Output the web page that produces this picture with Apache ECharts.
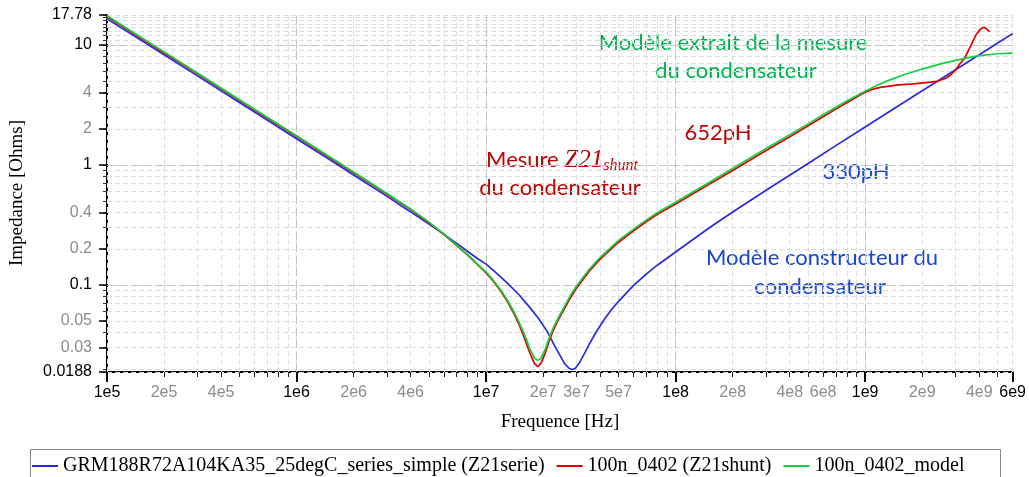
<!DOCTYPE html>
<html><head><meta charset="utf-8">
<script src="https://cdn.jsdelivr.net/npm/echarts@6/dist/echarts.min.js"></script>
<style>html,body{margin:0;padding:0;background:#fff}#c{width:1029px;height:477px}</style>
</head><body><div id="c"></div>
<script>
// ---------------- data ----------------
const seriesNames = [
  'GRM188R72A104KA35_25degC_series_simple (Z21serie)',
  '100n_0402 (Z21shunt)',
  '100n_0402_model'
];
const blueFreq = [1e5,1.5e5,2e5,3e5,5e5,7e5,1e6,1.5e6,2e6,3e6,4e6,5e6,6e6,7e6,8e6,9e6,1e7,1.15e7,1.3e7,1.5e7,1.7e7,1.9e7,2.1e7,2.3e7,2.45e7,2.6e7,2.75e7,2.85e7,2.95e7,3.1e7,3.3e7,3.5e7,3.8e7,4.2e7,4.6e7,5e7,6e7,7e7,8e7,1e8,1.5e8,2e8,3e8,5e8,7e8,1e9,1.5e9,2e9,3e9,4e9,5e9,6e9];
const blueZ    = [16.5,11.05,8.29,5.53,3.32,2.37,1.656,1.104,0.825,0.547,0.406,0.321,0.264,0.222,0.19,0.166,0.149,0.123,0.103,0.082,0.065,0.052,0.041,0.031,0.026,0.022,0.0201,0.0197,0.0201,0.0223,0.0268,0.032,0.0403,0.0515,0.0626,0.073,0.099,0.123,0.146,0.188,0.298,0.405,0.615,1.03,1.45,2.07,3.11,4.15,6.22,8.29,10.37,12.44];

const redFreq = [1e5,1.5e5,2e5,3e5,5e5,7e5,1e6,1.5e6,2e6,3e6,4e6,5e6,6e6,7e6,8e6,9e6,1e7,1.1e7,1.2e7,1.3e7,1.4e7,1.5e7,1.6e7,1.7e7,1.8e7,1.88e7,1.95e7,2.05e7,2.15e7,2.25e7,2.4e7,2.6e7,2.8e7,3e7,3.5e7,4e7,5e7,6e7,7e7,8e7,1e8,1.5e8,2e8,3e8,4e8,5e8,6e8,7e8,8e8,9e8,1e9,1.1e9,1.2e9,1.5e9,1.8e9,2.1e9,2.4e9,2.68e9,2.85e9,3e9,3.15e9,3.35e9,3.6e9,3.86e9,4.05e9,4.19e9,4.3e9,4.4e9,4.54e9];
const redZ    = [17.2,11.5,8.62,5.75,3.45,2.46,1.725,1.148,0.86,0.57,0.425,0.33,0.263,0.213,0.177,0.148,0.126,0.106,0.088,0.072,0.058,0.046,0.0355,0.0272,0.0221,0.0208,0.0223,0.027,0.034,0.041,0.051,0.064,0.079,0.094,0.13,0.164,0.227,0.283,0.336,0.388,0.472,0.69,0.9,1.32,1.72,2.12,2.52,2.92,3.3,3.68,4.03,4.28,4.43,4.65,4.74,4.85,4.98,5.3,5.7,6.2,6.9,7.8,9.8,12.3,13.5,14.0,13.9,13.4,12.9];

const greenFreq = [1e5,1.5e5,2e5,3e5,5e5,7e5,1e6,1.5e6,2e6,3e6,4e6,5e6,6e6,7e6,8e6,9e6,1e7,1.1e7,1.2e7,1.3e7,1.4e7,1.5e7,1.6e7,1.7e7,1.8e7,1.87e7,1.95e7,2.05e7,2.15e7,2.25e7,2.4e7,2.6e7,2.8e7,3e7,3.5e7,4e7,5e7,6e7,7e7,8e7,1e8,1.5e8,2e8,3e8,4e8,5e8,6e8,7e8,8e8,9e8,1e9,1.15e9,1.3e9,1.6e9,2e9,2.5e9,3e9,3.5e9,4e9,5e9,6e9];
const greenZ    = [17.5,11.67,8.76,5.84,3.5,2.5,1.75,1.165,0.872,0.578,0.43,0.334,0.265,0.215,0.179,0.15,0.128,0.108,0.09,0.074,0.06,0.048,0.038,0.0295,0.0245,0.0235,0.0245,0.029,0.036,0.043,0.053,0.067,0.083,0.098,0.135,0.17,0.235,0.292,0.347,0.4,0.488,0.714,0.935,1.37,1.79,2.2,2.62,3.03,3.42,3.78,4.12,4.6,5.0,5.65,6.3,6.95,7.45,7.85,8.15,8.45,8.55];

// tick labels
const xLabelValues = [1e5,2e5,4e5,1e6,2e6,4e6,1e7,2e7,3e7,5e7,1e8,2e8,4e8,6e8,1e9,2e9,4e9,6e9];
const xLabelTexts  = ['1e5','2e5','4e5','1e6','2e6','4e6','1e7','2e7','3e7','5e7','1e8','2e8','4e8','6e8','1e9','2e9','4e9','6e9'];
const xDarkLabels  = ['1e5','1e6','1e7','1e8','1e9','6e9'];
const yLabelValues = [17.78,10,4,2,1,0.4,0.2,0.1,0.05,0.03,0.0188];
const yLabelTexts  = ['17.78','10','4','2','1','0.4','0.2','0.1','0.05','0.03','0.0188'];
const yDarkLabels  = ['17.78','10','1','0.1','0.0188'];
const yExtraTicks  = [11,12,13,14,15,16,17];

// ---------------- helpers ----------------
const L = Math.log10;
const X_MIN = 1e5, X_MAX = 6e9, Y_MIN = 0.0188, Y_MAX = 17.78;
function multiples(lo, hi) {
  const out = [];
  for (let e = Math.floor(L(lo)) - 1; e <= Math.ceil(L(hi)); e++) {
    for (let m = 1; m < 10; m++) {
      const v = m * Math.pow(10, e);
      if (v >= lo * 0.9999 && v <= hi * 1.0001) out.push(v);
    }
  }
  return out;
}
const xAll = multiples(X_MIN, X_MAX).concat([X_MAX]);
const xMajor = [1e5,1e6,1e7,1e8,1e9,6e9];
const yAll = multiples(Y_MIN, Y_MAX).concat(yExtraTicks, [Y_MIN, Y_MAX]);
const yMajor = yLabelValues;
const yDecades = [10,1,0.1];
const xDecades = [1e6,1e7,1e8,1e9];

function pairs(fs, zs) { return fs.map((f, i) => [f, zs[i]]); }
function lookup(v, values, texts) {
  let best = 0, bd = 1e9;
  values.forEach((val, i) => { const d = Math.abs(L(val) - v); if (d < bd) { bd = d; best = i; } });
  return texts[best];
}
const PLOT_W = 1013 - 107, PLOT_H = 372 - 15;
const gridDash = [5, 3];

function decoAxis(kind, extra) {
  const base = kind === 'x'
    ? {type: 'value', min: L(X_MIN), max: L(X_MAX), position: 'bottom'}
    : {type: 'value', min: L(Y_MIN), max: L(Y_MAX), position: 'left'};
  const ax = Object.assign(base, {
    axisLine: {show: false}, axisTick: {show: false},
    axisLabel: {show: false}, splitLine: {show: false}
  }, extra);
  ax.axisLine = Object.assign({onZero: false}, ax.axisLine);
  return ax;
}

const labelFont = {fontFamily: 'Liberation Sans', fontSize: 16};
const rich = {
  k: Object.assign({color: '#000'}, labelFont),
  g: Object.assign({color: '#8c8c8c'}, labelFont)
};

const option = {
  animation: false,
  backgroundColor: '#fff',
  grid: {left: 107, right: 16, top: 15, bottom: 105},
  xAxis: [
    {type: 'log', min: X_MIN, max: X_MAX, show: false},
    // grid lines (minor, major)
    decoAxis('x', {axisTick: {show: true, inside: true, length: PLOT_H, customValues: xAll.map(L),
      lineStyle: {color: '#dddddd', width: 1, type: gridDash}}}),
    decoAxis('x', {axisTick: {show: true, inside: true, length: PLOT_H, customValues: xDecades.map(L),
      lineStyle: {color: '#c4c4c4', width: 1, type: [8, 4]}}}),
    // short ticks + labels + axis line
    decoAxis('x', {
      axisLine: {show: true, onZero: false, lineStyle: {color: '#000', width: 2}},
      axisTick: {show: true, length: 5, customValues: xAll.map(L), lineStyle: {color: '#222', width: 1}},
      axisLabel: {show: true, margin: 13, customValues: xLabelValues.map(L), rich: rich,
        formatter: v => { const t = lookup(v, xLabelValues, xLabelTexts); return (xDarkLabels.includes(t) ? '{k|' : '{g|') + t + '}'; }}
    }),
    decoAxis('x', {axisTick: {show: true, length: 10, customValues: xMajor.map(L), lineStyle: {color: '#000', width: 2}}})
  ],
  yAxis: [
    {type: 'log', min: Y_MIN, max: Y_MAX, show: false},
    decoAxis('y', {axisTick: {show: true, inside: true, length: PLOT_W, customValues: yAll.map(L),
      lineStyle: {color: '#dddddd', width: 1, type: gridDash}}}),
    decoAxis('y', {axisTick: {show: true, inside: true, length: PLOT_W, customValues: yDecades.map(L),
      lineStyle: {color: '#c4c4c4', width: 1, type: [8, 4]}}}),
    decoAxis('y', {
      axisLine: {show: true, onZero: false, lineStyle: {color: '#000', width: 2}},
      axisTick: {show: true, length: 4, customValues: yAll.map(L), lineStyle: {color: '#333', width: 1}},
      axisLabel: {show: true, margin: 15, customValues: yLabelValues.map(L), rich: rich,
        formatter: v => { const t = lookup(v, yLabelValues, yLabelTexts); return (yDarkLabels.includes(t) ? '{k|' : '{g|') + t + '}'; }}
    }),
    decoAxis('y', {axisTick: {show: true, length: 8, customValues: yMajor.map(L), lineStyle: {color: '#000', width: 1.5}}})
  ],
  legend: {
    left: 27, top: 451, itemWidth: 26, itemHeight: 2, itemGap: 12, icon: 'rect',
    textStyle: {fontFamily: 'Liberation Serif', fontSize: 20, color: '#000'},
    data: seriesNames
  },
  series: [
    {name: seriesNames[0], type: 'line', data: pairs(blueFreq, blueZ), color: '#2a2ae0'},
    {name: seriesNames[1], type: 'line', data: pairs(redFreq, redZ), color: '#e00000'},
    {name: seriesNames[2], type: 'line', data: pairs(greenFreq, greenZ), color: '#12d040'}
  ].map(s => Object.assign(s, {xAxisIndex: 0, yAxisIndex: 0, symbol: 'none', showSymbol: false,
      lineStyle: {width: 1.7}, emphasis: {disabled: true}})),
  graphic: [
    {type: 'rect', shape: {x: 30.5, y: 449.5, width: 970, height: 40}, style: {fill: 'none', stroke: '#8a8a8a', lineWidth: 1}},
    {type: 'text', x: 17, y: 193, rotation: Math.PI / 2,
      style: {text: 'Impedance [Ohms]', font: '19px "Liberation Serif"', fill: '#000', align: 'center', verticalAlign: 'middle'}},
    {type: 'text', x: 560, y: 422,
      style: {text: 'Frequence [Hz]', font: '19px "Liberation Serif"', fill: '#000', align: 'center', verticalAlign: 'middle'}},
    {type: 'text', x: 733, y: 43,
      style: {text: 'Modèle extrait de la mesure', font: '22px Lato', fill: '#00b050', align: 'center', verticalAlign: 'middle'}},
    {type: 'text', x: 736, y: 71,
      style: {text: 'du condensateur', font: '22px Lato', fill: '#00b050', align: 'center', verticalAlign: 'middle'}},
    {type: 'text', x: 562, y: 160,
      style: {text: '{a|Mesure }{b|Z21}{c|shunt}', align: 'center', verticalAlign: 'middle',
        rich: {
          a: {fontFamily: 'Lato', fontSize: 22, fill: '#c00000'},
          b: {fontFamily: 'Liberation Serif', fontStyle: 'italic', fontSize: 25, fill: '#c00000'},
          c: {fontFamily: 'Liberation Serif', fontStyle: 'italic', fontSize: 16, fill: '#c00000', padding: [12, 0, 0, 0]}
        }}},
    {type: 'text', x: 560, y: 188,
      style: {text: 'du condensateur', font: '22px Lato', fill: '#c00000', align: 'center', verticalAlign: 'middle'}},
    {type: 'text', x: 718, y: 133,
      style: {text: '652pH', font: '22px Lato', fill: '#c00000', align: 'center', verticalAlign: 'middle'}},
    {type: 'text', x: 856, y: 172,
      style: {text: '330pH', font: '22px Lato', fill: '#1846d2', align: 'center', verticalAlign: 'middle'}},
    {type: 'text', x: 822, y: 258,
      style: {text: 'Modèle constructeur du', font: '22px Lato', fill: '#1846d2', align: 'center', verticalAlign: 'middle'}},
    {type: 'text', x: 820, y: 287,
      style: {text: 'condensateur', font: '22px Lato', fill: '#1846d2', align: 'center', verticalAlign: 'middle'}}
  ]
};
const chart = echarts.init(document.getElementById('c'));
chart.setOption(option);
</script>
</body></html>
